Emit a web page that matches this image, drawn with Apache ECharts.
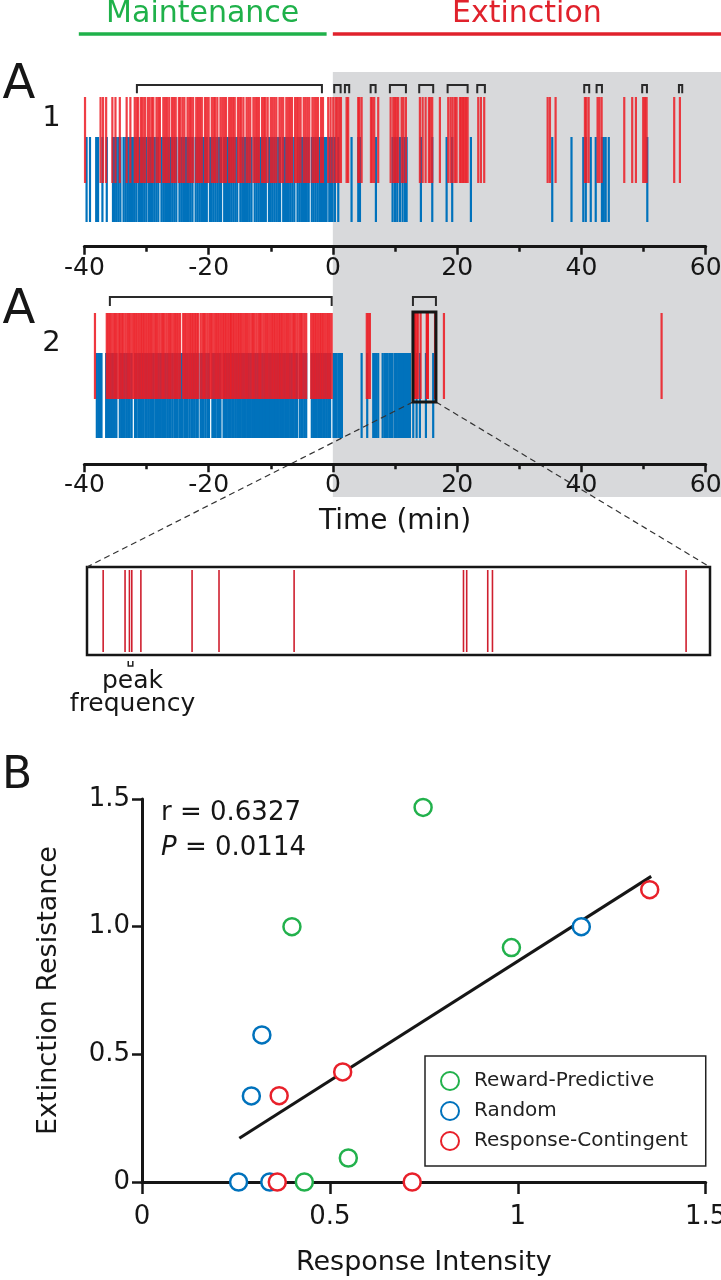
<!DOCTYPE html>
<html>
<head>
<meta charset="utf-8">
<script src="https://cdn.jsdelivr.net/npm/echarts@6/dist/echarts.min.js"></script>
<style>
html,body{margin:0;padding:0;background:#fff;}
#chart{width:721px;height:1280px;}
</style>
</head>
<body>
<div id="chart"></div>
<script>
// ---------------- DATA ----------------
const timeTicks = [-40, -20, 0, 20, 40, 60];
const timeTickLabels = ['-40', '-20', '0', '20', '40', '60'];

const phaseNames = ['Maintenance', 'Extinction'];
const phaseStart = [-40.9, 0];
const phaseEnd = [-1.0, 62.5];

// A1: event times (min)
const a1RedEvents = [
  -39.9, -37.4, -37.0, -36.5, -35.5, -35.0, -34.3, -33.2, -32.6,
  -31.9, -31.6, -31.35, -30.9, -30.6, -30.25, -29.8, -29.5, -29.15, -28.9, -28.4, -28.1, -27.85,
  -27.3, -27.0, -26.7, -26.35, -25.9, -25.6, -25.3, -24.8, -24.55, -24.2, -23.9, -23.4, -23.1,
  -22.85, -22.5, -22.0, -21.7, -21.4, -21.1, -20.6, -20.3, -20.0, -19.5, -19.2, -18.95, -18.6,
  -18.1, -17.8, -17.5, -17.2, -16.7, -16.4, -16.1, -15.8, -15.3, -15.0, -14.75, -14.4, -13.9,
  -13.6, -13.3, -12.8, -12.5, -12.2, -11.9, -11.4, -11.1, -10.85, -10.5, -10.0, -9.7, -9.4,
  -9.1, -8.6, -8.3, -8.0, -7.5, -7.2, -6.9, -6.6, -6.1, -5.8, -5.5, -5.2, -4.7, -4.4, -4.1,
  -3.8, -3.3, -3.0, -2.7, -2.4, -1.9, -1.6,
  -0.76, -0.37, 0.05, 0.43, 0.69, 1.01, 1.29, 2.2, 2.45, 4.07, 4.26, 4.62, 6.12, 6.36, 6.65,
  7.29, 9.29, 9.71, 9.98, 10.25, 10.51, 11.06, 11.35, 11.75, 14.0, 14.44, 14.92, 15.45, 15.69,
  15.98, 17.22, 18.56, 18.94, 19.27, 19.64, 19.91, 20.44, 20.68, 20.92, 21.17, 21.41, 21.68,
  23.39, 23.82, 24.35, 34.56, 34.93, 35.84, 40.56, 40.8, 41.16, 42.6, 42.89, 43.25, 46.89,
  48.17, 48.77, 49.94, 50.21, 50.49, 54.93, 55.85
];
const a1BlueEvents = [
  -39.65, -39.1, -38.1, -37.8, -37.1, -36.4,
  -35.4, -35.1, -34.8, -34.5, -34.2, -33.7, -33.4, -33.1, -32.8, -32.5, -32.2,
  -31.9, -31.6, -31.2, -30.9, -30.6, -30.3, -30.0, -29.6, -29.3, -29.0, -28.7, -28.4, -28.1,
  -27.6, -27.3, -27.0, -26.7, -26.4, -26.1, -25.8, -25.5, -25.2, -24.7, -24.4, -24.1, -23.8,
  -23.5, -23.2, -22.9, -22.6, -22.1, -21.8, -21.5, -21.2, -20.9, -20.6, -20.3, -19.8, -19.5,
  -19.2, -18.9, -18.6, -18.3, -18.0, -17.5, -17.2, -16.9, -16.6, -16.3, -16.0, -15.7, -15.4,
  -14.9, -14.6, -14.3, -14.0, -13.7, -13.4, -13.1, -12.6, -12.3, -12.0, -11.7, -11.4, -11.1,
  -10.8, -10.3, -10.0, -9.7, -9.4, -9.1, -8.8, -8.5, -8.0, -7.7, -7.4, -7.1, -6.8, -6.5, -6.2,
  -5.7, -5.4, -5.1, -4.8, -4.5, -4.2, -3.9, -3.4, -3.1, -2.8, -2.5, -2.2, -1.9, -1.6,
  -1.29, -1.02, -0.59, -0.32, -0.05, 0.32, 0.86, 3.0, 4.08, 4.35, 6.92, 9.6, 9.98, 10.35,
  10.78, 11.21, 11.59, 11.86, 14.16, 15.99, 18.3, 19.2, 22.21, 35.3, 38.4, 40.3, 40.7, 41.5,
  42.3, 43.3, 43.6, 43.9, 44.4, 50.6
];
const a1Brackets = [
  [-31.55, -1.77], [0.21, 1.24], [1.93, 2.62], [6.07, 6.87], [9.17, 11.75], [13.89, 16.14],
  [18.46, 21.68], [23.23, 24.46], [40.45, 41.25], [42.44, 43.3], [49.78, 50.54], [55.69, 56.22]
];

// A2: event times (min)
const a2RedEvents = [
  -38.3,
  -36.4, -36.15, -35.9, -35.6, -35.3, -35.05, -34.8, -34.5, -34.25, -33.95, -33.7, -33.4, -33.1,
  -32.85, -32.6, -32.3, -32.0, -31.75, -31.5, -31.2, -30.9, -30.65, -30.4, -30.1, -29.8, -29.55,
  -29.3, -29.0, -28.7, -28.45, -28.2, -27.9, -27.6, -27.35, -27.1, -26.8, -26.5, -26.25, -26.0,
  -25.7, -25.4, -25.15, -24.9, -24.6,
  -24.1, -23.85, -23.6, -23.3, -23.0, -22.75, -22.5, -22.2, -21.95, -21.7,
  -21.3, -21.0, -20.75, -20.5, -20.2, -19.9, -19.65, -19.4, -19.1, -18.8, -18.55, -18.3, -18.0,
  -17.7, -17.45, -17.2, -16.9, -16.6,
  -16.4, -16.15, -15.9, -15.6, -15.3, -15.05, -14.8, -14.5, -14.2, -13.95, -13.7, -13.4, -13.1,
  -12.85, -12.6, -12.3, -12.0, -11.75, -11.5, -11.2, -10.9, -10.65, -10.4, -10.1, -9.8, -9.55,
  -9.3, -9.0, -8.7, -8.45, -8.2, -7.9, -7.6, -7.35, -7.1, -6.8, -6.5, -6.25, -6.0, -5.7, -5.4,
  -5.15, -4.9, -4.6, -4.3,
  -3.5, -3.2, -2.95, -2.7, -2.4, -2.1, -1.85, -1.6, -1.3, -1.0, -0.75, -0.5, -0.2,
  5.45, 5.7, 5.95,
  12.976, 13.106, 13.132, 13.146, 13.2, 13.504, 13.664, 14.11, 15.116, 15.135, 15.26, 15.288, 16.438,
  17.87, 52.9
];
const a2BlueEvents = [
  -38.0, -37.75, -37.5, -37.25,
  -36.5, -36.2, -35.95, -35.7, -35.4, -35.1, -34.85, -34.3, -34.05, -33.8, -33.5, -33.2, -32.95,
  -32.7, -32.4, -31.85, -31.6, -31.3, -31.05, -30.75, -30.5, -30.2, -29.95, -29.65, -29.4, -29.1,
  -28.85, -28.55, -28.3, -28.0, -27.7, -27.45, -27.2, -26.9, -26.6, -26.35, -26.1, -25.8, -25.5,
  -25.25, -25.0, -24.7, -24.45, -24.2, -23.9, -23.65, -23.4, -23.1, -22.8, -22.55, -22.3, -22.0, -21.75,
  -21.3, -21.05, -20.8, -20.5, -20.2, -19.95, -19.4, -19.15, -18.9, -18.6, -18.35, -18.1, -17.6,
  -17.35, -17.1, -16.85, -16.6,
  -16.45, -16.2, -15.95, -15.65, -15.4, -15.1, -14.85, -14.6, -14.3, -14.05, -13.8, -13.5, -13.25,
  -13.0, -12.7, -12.45, -12.2, -11.9, -11.65, -11.4, -11.1, -10.85, -10.6, -10.3, -10.05, -9.8,
  -9.5, -9.25, -9.0, -8.7, -8.45, -8.2, -7.9, -7.65, -7.4, -7.1, -6.85, -6.6, -6.3, -6.05, -5.8,
  -5.35, -5.1, -4.85, -4.55, -4.3,
  -3.4, -3.15, -2.9, -2.6, -2.35, -2.1, -1.8, -1.55, -1.3, -1.0, -0.75, -0.45, 0.1, 0.35, 0.6,
  0.9, 1.15, 1.45,
  4.62, 5.52, 6.49, 6.75, 7.0, 7.29, 8.0, 8.3, 8.55, 8.8, 9.1, 9.35, 9.6, 9.98, 10.25, 10.5,
  10.78, 11.05, 11.3, 11.6, 11.85, 12.1, 12.39, 12.93, 13.47, 14.0, 14.97, 16.14
];
const a2Brackets = [[-35.9, -0.2], [12.88, 16.58]];
const zoomWindow = [12.88, 16.58];
const peakWindow = [13.125, 13.152];
const peakLabel = 'peak\nfrequency';

// B: scatter
const categories = ['Reward-Predictive', 'Random', 'Response-Contingent'];
const rewardX = [0.748, 0.399, 0.983, 0.549, 0.432];
const rewardY = [1.467, 1.0, 0.918, 0.094, 0];
const randomX = [1.169, 0.319, 0.291, 0.257, 0.340];
const randomY = [1.0, 0.576, 0.337, 0, 0];
const contingentX = [1.351, 0.534, 0.365, 0.360, 0.719];
const contingentY = [1.145, 0.431, 0.338, 0, 0];
const fitX = [0.259, 1.355];
const fitY = [0.171, 1.197];
const xTicks = [0, 0.5, 1, 1.5];
const xTickLabels = ['0', '0.5', '1', '1.5'];
const yTicks = [0, 0.5, 1, 1.5];
const yTickLabels = ['0', '0.5', '1.0', '1.5'];
const statR = '0.6327';
const statP = '0.0114';

// ---------------- STYLE / LAYOUT ----------------
const FONT = '"DejaVu Sans", sans-serif';
const INK = '#161616';
const RED = '#ec1c24';
const BLUE = '#0072bc';
const GREEN = '#22b14c';
const GREY = '#d8d9db';
const catColors = [GREEN, BLUE, '#e8202a'];
const phaseColors = ['#1fb14a', '#e0222c'];
const ZOOM = { left: 87, top: 567, width: 623, height: 88 };
const A1 = { top: 85, h: 161.7, bracket: [0, 8.3], red: [12, 98], blue: [52, 137] };
const A2 = { top: 297, h: 167.3, bracket: [0, 9], red: [16, 102], blue: [56, 141], box: [15, 105] };
const TICK_W = 2.2;

function pairs(xs, ys) { return xs.map((x, i) => [x, ys[i]]); }

function raster(axis, events, row, color, width, opacity) {
  return {
    type: 'custom', xAxisIndex: axis, yAxisIndex: axis, z: 2,
    data: events.map(t => [t, 0]),
    encode: { x: 0, y: 1 },
    renderItem: function (params, api) {
      const t = api.value(0);
      const p0 = api.coord([t, row[0]]);
      const p1 = api.coord([t, row[1]]);
      return { type: 'rect', shape: { x: p0[0] - width / 2, y: p0[1], width: width, height: p1[1] - p0[1] },
        style: { fill: color, opacity: opacity } };
    }
  };
}
function brackets(axis, list, row) {
  return {
    type: 'custom', xAxisIndex: axis, yAxisIndex: axis, z: 4,
    data: list.map(b => [b[0], b[1]]),
    encode: { x: [0, 1] },
    renderItem: function (params, api) {
      const a = api.coord([api.value(0), row[0]]);
      const b = api.coord([api.value(1), row[1]]);
      return { type: 'polyline', shape: { points: [[a[0], b[1]], [a[0], a[1]], [b[0], a[1]], [b[0], b[1]]] },
        style: { stroke: '#2a2a2a', lineWidth: 2, fill: null } };
    }
  };
}
function timeAxis(grid, withName) {
  const ax = {
    type: 'value', gridIndex: grid, min: -40, max: 60, interval: 20, z: 5, position: 'bottom',
    axisLine: { show: true, onZero: false, lineStyle: { color: INK, width: 3 } },
    axisTick: { show: true, length: 8, lineStyle: { color: INK, width: 2.5 } },
    minorTick: { show: true, splitNumber: 2, length: 5, lineStyle: { color: INK, width: 2.5 } },
    splitLine: { show: false }, minorSplitLine: { show: false },
    axisLabel: { margin: 9, color: INK, fontFamily: FONT, fontSize: 25,
      formatter: v => { const i = timeTicks.indexOf(v); return i >= 0 ? timeTickLabels[i] : ''; } }
  };
  if (withName) {
    Object.assign(ax, { name: 'Time (min)', nameLocation: 'middle', nameGap: 43,
      nameTextStyle: { color: INK, fontFamily: FONT, fontSize: 28 } });
  }
  return ax;
}

const chart = echarts.init(document.getElementById('chart'), null, { renderer: 'canvas' });

const option = {
  animation: false,
  backgroundColor: '#fff',
  grid: [
    { left: 84.4, right: 0, top: 72, height: 425, outerBoundsMode: 'none' },
    { left: 84.4, right: 15.3, top: A1.top, height: A1.h, outerBoundsMode: 'none' },
    { left: 84.4, right: 15.3, top: A2.top, height: A2.h, outerBoundsMode: 'none' },
    { left: ZOOM.left, top: ZOOM.top, width: ZOOM.width, height: ZOOM.height, show: true,
      borderColor: INK, borderWidth: 2.5, backgroundColor: '#fff', outerBoundsMode: 'none' },
    { left: 142, right: 15.3, top: 799, height: 383, outerBoundsMode: 'none' }
  ],
  xAxis: [
    { type: 'value', gridIndex: 0, min: -40, max: 62.5, show: false },
    timeAxis(1, false),
    timeAxis(2, true),
    { type: 'value', gridIndex: 3, min: zoomWindow[0], max: zoomWindow[1], show: false },
    { type: 'value', gridIndex: 4, min: 0, max: 1.5, interval: 0.5, z: 3,
      axisLine: { show: true, lineStyle: { color: INK, width: 3 } },
      axisTick: { show: true, length: 12, lineStyle: { color: INK, width: 2.5 } },
      splitLine: { show: false },
      axisLabel: { margin: 22, color: INK, fontFamily: FONT, fontSize: 26,
        formatter: v => { const i = xTicks.indexOf(v); return i >= 0 ? xTickLabels[i] : ''; } },
      name: 'Response Intensity', nameLocation: 'middle', nameGap: 67,
      nameTextStyle: { color: INK, fontFamily: FONT, fontSize: 27 } }
  ],
  yAxis: [
    { type: 'value', gridIndex: 0, min: 0, max: 1, show: false },
    { type: 'value', gridIndex: 1, min: 0, max: A1.h, inverse: true, show: false },
    { type: 'value', gridIndex: 2, min: 0, max: A2.h, inverse: true, show: false },
    { type: 'value', gridIndex: 3, min: 0, max: ZOOM.height, inverse: true, show: false },
    { type: 'value', gridIndex: 4, min: 0, max: 1.5, interval: 0.5, z: 3,
      axisLine: { show: true, lineStyle: { color: INK, width: 3 } },
      axisTick: { show: true, length: 10, lineStyle: { color: INK, width: 2.5 } },
      splitLine: { show: false },
      axisLabel: { margin: 12, color: INK, fontFamily: FONT, fontSize: 26,
        formatter: v => { const i = yTicks.indexOf(v); return i >= 0 ? yTickLabels[i] : ''; } },
      name: 'Extinction Resistance', nameLocation: 'middle', nameGap: 80, nameRotate: 90,
      nameTextStyle: { color: INK, fontFamily: FONT, fontSize: 27 } }
  ],
  legend: {
    orient: 'vertical', left: 425, top: 1056, padding: [15, 18, 15, 15],
    itemWidth: 18, itemHeight: 18, itemGap: 10,
    borderColor: '#222', borderWidth: 1.5, backgroundColor: '#fff',
    textStyle: { fontFamily: FONT, fontSize: 20, color: '#222', padding: [0, 0, 0, 10] },
    data: categories
  },
  graphic: [
    { type: 'text', x: 19, y: 86, style: { text: 'A', fontFamily: FONT, fontSize: 48, fill: INK, align: 'center', verticalAlign: 'middle' } },
    { type: 'text', x: 51.5, y: 118, style: { text: '1', fontFamily: FONT, fontSize: 29, fill: INK, align: 'center', verticalAlign: 'middle' } },
    { type: 'text', x: 19, y: 311, style: { text: 'A', fontFamily: FONT, fontSize: 48, fill: INK, align: 'center', verticalAlign: 'middle' } },
    { type: 'text', x: 51.5, y: 343, style: { text: '2', fontFamily: FONT, fontSize: 29, fill: INK, align: 'center', verticalAlign: 'middle' } },
    { type: 'text', x: 17, y: 777, style: { text: 'B', fontFamily: FONT, fontSize: 44, fill: INK, align: 'center', verticalAlign: 'middle' } },
    { type: 'text', x: 161, y: 813, style: { text: 'r = ' + statR, fontFamily: FONT, fontSize: 26, fill: INK, align: 'left', verticalAlign: 'middle' } },
    { type: 'text', x: 161, y: 848, style: { text: '{i|P} = ' + statP, fontFamily: FONT, fontSize: 26, fill: INK, align: 'left', verticalAlign: 'middle',
        rich: { i: { fontStyle: 'italic', fontFamily: FONT, fontSize: 26, fill: INK } } } }
  ],
  series: [
    // grey extinction background
    { type: 'custom', xAxisIndex: 0, yAxisIndex: 0, z: 0, silent: true,
      data: [[phaseStart[1], phaseEnd[1]]], encode: { x: [0, 1] },
      renderItem: function (params, api) {
        const a = api.coord([api.value(0), 1]);
        const b = api.coord([api.value(1), 0]);
        return { type: 'rect', shape: { x: a[0], y: a[1], width: b[0] - a[0], height: b[1] - a[1] }, style: { fill: GREY } };
      } },
    // phase header lines + labels
    { type: 'custom', xAxisIndex: 0, yAxisIndex: 0, z: 3, silent: true,
      data: phaseNames.map((n, i) => [phaseStart[i], phaseEnd[i], i]), encode: { x: [0, 1] },
      renderItem: function (params, api) {
        const i = api.value(2);
        const a = api.coord([api.value(0), 1]);
        const b = api.coord([api.value(1), 1]);
        return { type: 'group', children: [
          { type: 'line', shape: { x1: a[0], y1: 34, x2: b[0], y2: 34 }, style: { stroke: phaseColors[i], lineWidth: 3.5 } },
          { type: 'text', x: (a[0] + b[0]) / 2, y: 14, style: { text: phaseNames[i], fontFamily: FONT, fontSize: 30,
            fill: phaseColors[i], align: 'center', verticalAlign: 'middle' } }
        ] };
      } },
    raster(1, a1BlueEvents, A1.blue, BLUE, TICK_W, 1),
    raster(1, a1RedEvents, A1.red, RED, TICK_W, 0.85),
    brackets(1, a1Brackets, A1.bracket),
    raster(2, a2BlueEvents, A2.blue, BLUE, TICK_W, 1),
    raster(2, a2RedEvents, A2.red, RED, TICK_W, 0.88),
    brackets(2, a2Brackets, A2.bracket),
    // zoom window box in A2 + dashed connectors
    { type: 'custom', xAxisIndex: 2, yAxisIndex: 2, z: 4, silent: true,
      data: [[zoomWindow[0], zoomWindow[1]]], encode: { x: [0, 1] },
      renderItem: function (params, api) {
        const a = api.coord([api.value(0), A2.box[0]]);
        const b = api.coord([api.value(1), A2.box[1]]);
        return { type: 'group', children: [
          { type: 'line', shape: { x1: a[0], y1: b[1], x2: ZOOM.left, y2: ZOOM.top }, style: { stroke: '#333', lineWidth: 1.2, lineDash: [6, 4] } },
          { type: 'line', shape: { x1: b[0], y1: b[1], x2: ZOOM.left + ZOOM.width, y2: ZOOM.top }, style: { stroke: '#333', lineWidth: 1.2, lineDash: [6, 4] } },
          { type: 'rect', shape: { x: a[0], y: a[1], width: b[0] - a[0], height: b[1] - a[1] }, style: { stroke: INK, lineWidth: 3, fill: null } }
        ] };
      } },
    // zoomed raster
    { type: 'custom', xAxisIndex: 3, yAxisIndex: 3, z: 3, clip: true,
      data: a2RedEvents.filter(t => t >= zoomWindow[0] && t <= zoomWindow[1]).map(t => [t, 0]),
      encode: { x: 0, y: 1 },
      renderItem: function (params, api) {
        const p0 = api.coord([api.value(0), 3]);
        const p1 = api.coord([api.value(0), ZOOM.height - 3]);
        return { type: 'rect', shape: { x: p0[0] - 0.8, y: p0[1], width: 1.6, height: p1[1] - p0[1] }, style: { fill: '#cf1f2e' } };
      } },
    // peak frequency marker
    { type: 'custom', xAxisIndex: 3, yAxisIndex: 3, z: 3, silent: true,
      data: [[peakWindow[0], peakWindow[1]]], encode: { x: [0, 1] },
      renderItem: function (params, api) {
        const a = api.coord([api.value(0), ZOOM.height + 6]);
        const b = api.coord([api.value(1), ZOOM.height + 11]);
        const cx = (a[0] + b[0]) / 2;
        return { type: 'group', children: [
          { type: 'polyline', shape: { points: [[a[0], a[1]], [a[0], b[1]], [b[0], b[1]], [b[0], a[1]]] }, style: { stroke: '#222', lineWidth: 1.5, fill: null } },
          { type: 'text', x: cx + 2, y: b[1] + 4, style: { text: peakLabel, fontFamily: FONT, fontSize: 25, lineHeight: 23,
            fill: INK, align: 'center', verticalAlign: 'top' } }
        ] };
      } },
    // regression line
    { type: 'line', xAxisIndex: 4, yAxisIndex: 4, z: 2, data: pairs(fitX, fitY), symbol: 'none',
      lineStyle: { color: INK, width: 3 }, silent: true },
    // scatter groups
    { type: 'scatter', name: categories[0], xAxisIndex: 4, yAxisIndex: 4, z: 4, clip: false, data: pairs(rewardX, rewardY),
      symbol: 'circle', symbolSize: 17, itemStyle: { color: '#fff', borderColor: catColors[0], borderWidth: 2.5, opacity: 1 } },
    { type: 'scatter', name: categories[1], xAxisIndex: 4, yAxisIndex: 4, z: 4, clip: false, data: pairs(randomX, randomY),
      symbol: 'circle', symbolSize: 17, itemStyle: { color: '#fff', borderColor: catColors[1], borderWidth: 2.5, opacity: 1 } },
    { type: 'scatter', name: categories[2], xAxisIndex: 4, yAxisIndex: 4, z: 4, clip: false, data: pairs(contingentX, contingentY),
      symbol: 'circle', symbolSize: 17, itemStyle: { color: '#fff', borderColor: catColors[2], borderWidth: 2.5, opacity: 1 } }
  ]
};
chart.setOption(option);
</script>
</body>
</html>
